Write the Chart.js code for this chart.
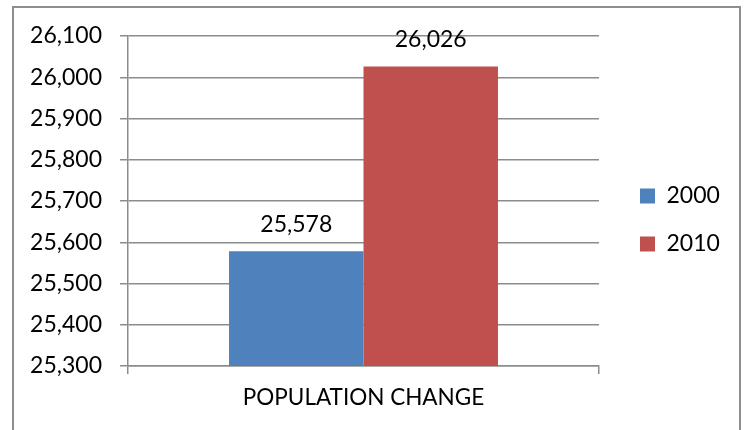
<!DOCTYPE html>
<html>
<head>
<meta charset="utf-8">
<script src="https://cdn.jsdelivr.net/npm/chart.js@4/dist/chart.umd.min.js"></script>
<style>
  html, body { margin: 0; padding: 0; background: #fff; }
  #frame {
    position: absolute; left: 12px; top: 6px;
    width: 729px; height: 440px;
    border: 2px solid #8e8e8e; box-sizing: border-box;
  }
  #chart { position: absolute; left: 0; top: 0; }
</style>
</head>
<body>
<div id="frame"></div>
<canvas id="chart" width="745" height="430"></canvas>
<script>
const categories = ["POPULATION CHANGE"];
const seriesNames = ["2000", "2010"];
const values2000 = [25578];
const values2010 = [26026];
const yTicks = [25300, 25400, 25500, 25600, 25700, 25800, 25900, 26000, 26100];

const FONT = "Lato, 'Open Sans', sans-serif";
const GRID = "#8c8c8c";

// value labels above each bar, placed from the bar elements
const barLabels = {
  id: "barLabels",
  afterDatasetsDraw(chart) {
    const ctx = chart.ctx;
    ctx.save();
    ctx.font = "23px " + FONT;
    ctx.fillStyle = "#000";
    ctx.textAlign = "center";
    ctx.textBaseline = "middle";
    chart.data.datasets.forEach((ds, i) => {
      chart.getDatasetMeta(i).data.forEach((bar, j) => {
        ctx.fillText(ds.data[j].toLocaleString("en-US"), bar.x, bar.y - 27);
      });
    });
    ctx.restore();
  },
};

// nudge the legend away from the plot, like Excel does
const legendShift = {
  id: "legendShift",
  afterLayout(chart) {
    const l = chart.legend;
    l.left += 16; l.right += 40;
    l.top -= 13; l.bottom -= 13;
  },
};

new Chart(document.getElementById("chart"), {
  type: "bar",
  data: {
    labels: categories,
    datasets: [
      { label: seriesNames[0], data: values2000, backgroundColor: "#4f81bd" },
      { label: seriesNames[1], data: values2010, backgroundColor: "#c0504d" },
    ],
  },
  options: {
    responsive: false,
    animation: false,
    devicePixelRatio: 1,
    layout: { padding: { left: 0, top: 36, right: 46, bottom: 0 } },
    datasets: { bar: { categoryPercentage: 0.571, barPercentage: 1.0 } },
    plugins: {
      tooltip: { enabled: false },
      legend: {
        position: "right",
        maxWidth: 100,
        labels: {
          boxWidth: 15,
          boxHeight: 15,
          padding: 25,
          color: "#000",
          font: { family: FONT, size: 23 },
        },
      },
    },
    scales: {
      x: {
        afterFit(scale) { scale.height = 64; },
        grid: { offset: true, drawOnChartArea: false, color: GRID, lineWidth: 1.5, tickLength: 8 },
        border: { color: GRID, width: 1.5 },
        ticks: { color: "#000", padding: 10, font: { family: FONT, size: 22.5 } },
      },
      y: {
        min: 25300,
        max: 26100,
        afterFit(scale) { scale.width = 128; },
        afterBuildTicks(scale) { scale.ticks = yTicks.map(v => ({ value: v })); },
        grid: { color: GRID, lineWidth: 1.5, tickLength: 8 },
        border: { color: GRID, width: 1.5 },
        ticks: {
          color: "#000",
          padding: 18,
          font: { family: FONT, size: 23 },
          callback: v => v.toLocaleString("en-US"),
        },
      },
    },
  },
  plugins: [barLabels, legendShift],
});
</script>
</body>
</html>
